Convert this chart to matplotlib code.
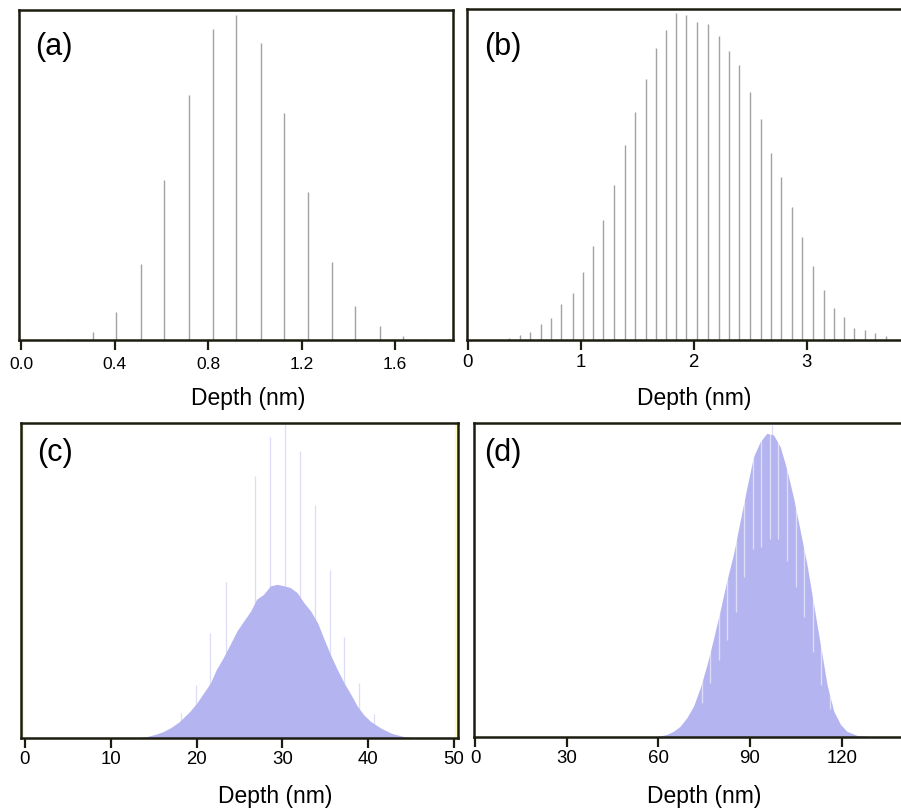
import matplotlib
matplotlib.use("Agg")
import matplotlib.pyplot as plt
import numpy as np

plt.rcParams['font.family'] = ['Liberation Sans', 'DejaVu Sans']

# ---------------- data ----------------
# (a) depth distribution, discrete lines (relative counts)
a_depth = [0.20, 0.307, 0.408, 0.515, 0.613, 0.717, 0.820, 0.921, 1.025, 1.124,
           1.229, 1.329, 1.430, 1.534, 1.634, 1.73, 1.83]
a_count = [1, 8.3, 28.3, 76, 160, 245, 311, 325.3, 296.7, 227.3,
           148.3, 78.3, 34, 14.3, 4, 1.5, 1]
a_ticks = [0.0, 0.4, 0.8, 1.2, 1.6]
a_ticklabels = ["0.0", "0.4", "0.8", "1.2", "1.6"]

# (b) depth distribution, discrete lines (relative counts)
b_depth = [0.271, 0.366, 0.460, 0.552, 0.649, 0.735, 0.826, 0.929, 1.018, 1.109,
           1.201, 1.292, 1.389, 1.484, 1.575, 1.667, 1.758, 1.844, 1.935, 2.032,
           2.130, 2.224, 2.313, 2.401, 2.496, 2.596, 2.684, 2.776, 2.867, 2.962,
           3.053, 3.150, 3.242, 3.330, 3.422, 3.513, 3.608, 3.705, 3.80, 3.89, 3.98]
b_count = [4, 5, 15, 25, 48, 65, 107, 142, 205, 282,
           360, 464, 586, 683, 782, 877, 929, 982, 975, 953,
           947, 912, 866, 824, 745, 662, 560, 488, 400, 308,
           221, 151, 95, 68, 37, 29, 20, 12, 4, 3, 2]
b_ticks = [0, 1, 2, 3]

# (c) histogram envelope (fraction of axis height) + isolated tall bins
c_depth = [12.5, 13.5, 14.1, 15.0, 16.1, 17.0, 18.0, 19.2, 20.0, 20.8, 21.6, 22.3,
           23.1, 23.9, 24.7, 25.5, 26.3, 27.0, 27.8, 28.6, 29.4, 30.2, 30.9, 31.7,
           32.5, 33.3, 34.1, 34.8, 35.6, 36.4, 37.2, 38.0, 38.75, 39.5, 40.3, 41.5,
           42.7, 44.2, 45.8, 47.0]
c_freq = [0, 0.003, 0.005, 0.011, 0.021, 0.034, 0.053, 0.085, 0.111, 0.143, 0.175, 0.218,
          0.255, 0.297, 0.340, 0.372, 0.403, 0.441, 0.456, 0.483, 0.488, 0.483, 0.478, 0.462,
          0.430, 0.403, 0.366, 0.318, 0.265, 0.218, 0.175, 0.138, 0.101, 0.074, 0.053, 0.032,
          0.016, 0.005, 0.001, 0]
c_spike_depth = [18.13, 19.88, 21.60, 23.40, 26.84, 28.59, 30.27, 32.07, 33.83,
                 35.51, 37.23, 38.98, 40.70]
c_spike_freq = [0.080, 0.170, 0.334, 0.494, 0.830, 0.955, 0.996, 0.911, 0.738,
                0.533, 0.321, 0.175, 0.076]
c_ticks = [0, 10, 20, 30, 40, 50]

# (d) histogram envelope (fraction of axis height) + depleted bins
d_depth = [52, 56, 60, 62.7, 64.9, 67.1, 69.3, 71.5, 73.7, 75.8, 78.0, 80.2, 82.4,
           84.6, 86.8, 89.0, 91.1, 93.3, 95.5, 97.7, 99.9, 102.1, 104.3, 106.4, 108.6,
           110.8, 113.0, 115.2, 117.4, 119.6, 121.7, 125.0, 130.5, 134]
d_freq = [0, 0.001, 0.003, 0.009, 0.019, 0.035, 0.062, 0.099, 0.158, 0.227, 0.312, 0.403, 0.499,
          0.584, 0.691, 0.797, 0.893, 0.941, 0.968, 0.963, 0.925, 0.851, 0.760, 0.659, 0.552,
          0.424, 0.296, 0.168, 0.083, 0.041, 0.019, 0.006, 0.001, 0]
d_dip_depth = [74.2, 76.9, 79.7, 82.4, 85.3, 88.0, 90.9, 93.7, 96.5, 99.3, 102.1,
               104.9, 107.7, 110.5, 113.3, 116.1]
d_dip_freq = [0.11, 0.172, 0.246, 0.31, 0.40, 0.51, 0.60, 0.605, 0.633, 0.63, 0.56,
              0.48, 0.383, 0.272, 0.168, 0.09]
d_spike_depth = [97.2]
d_spike_freq = [0.995]
d_ticks = [0, 30, 60, 90, 120]

xlabel = "Depth (nm)"

# ---------------- figure ----------------
W, H = 901, 809
fig = plt.figure(figsize=(W / 100, H / 100), dpi=100)

def axes_px(l, t, r, b):
    return fig.add_axes([l / W, 1 - b / H, (r - l) / W, (b - t) / H])

spine_col = '#1c1c10'
bar_col = '#a2a2a2'
hist_col = '#b4b4f0'

def style(ax, ticks, labels, tsize, pad):
    for s in ax.spines.values():
        s.set_linewidth(1.8)
        s.set_color(spine_col)
    ax.set_yticks([])
    ax.set_xticks(ticks)
    ax.set_xticklabels(labels)
    ax.tick_params(axis='x', direction='out', length=7, width=1.6,
                   labelsize=tsize, pad=pad, colors=spine_col, labelcolor='black')

# (a)
axa = axes_px(19, 10, 453, 340)
axa.vlines(a_depth, 0, a_count, color=bar_col, lw=1.0)
axa.set_xlim(-0.0086, 1.848)
axa.set_ylim(0, 330)
style(axa, a_ticks, a_ticklabels, 12.5, 5.0)
axa.text(0.037, 0.889, "(a)", transform=axa.transAxes, fontsize=22, ha='left', va='center')
axa.text(0.5276, -0.197, xlabel, transform=axa.transAxes, fontsize=16.5, ha='center', va='baseline')

# (b)
axb = axes_px(466.7, 9.3, 923, 340)
axb.vlines(b_depth, 0, b_count, color=bar_col, lw=1.0)
axb.set_xlim(-0.0088, 4.03)
axb.set_ylim(0, 992)
style(axb, b_ticks, [str(t) for t in b_ticks], 13.4, 3.0)
axb.text(0.0386, 0.887, "(b)", transform=axb.transAxes, fontsize=22, ha='left', va='center')
axb.text(0.4975, -0.1966, xlabel, transform=axb.transAxes, fontsize=16.5, ha='center', va='baseline')

# (c)
axc = axes_px(20.7, 422.7, 458.3, 738.3)
axc.fill_between(c_depth, 0, c_freq, color=hist_col, lw=0)
axc.vlines(c_spike_depth, 0, c_spike_freq, color=hist_col, lw=0.9, alpha=0.45)
axc.set_xlim(-0.5, 50.5)
axc.set_ylim(0, 1.0)
axc.plot([0.006, 0.006], [0, 1], transform=axc.transAxes, color='#fcfcb8', lw=1.5)
axc.plot([0.994, 0.994], [0, 1], transform=axc.transAxes, color='#fcfcb8', lw=1.5)
style(axc, c_ticks, [str(t) for t in c_ticks], 13.4, 2.5)
axc.text(0.0366, 0.904, "(c)", transform=axc.transAxes, fontsize=22, ha='left', va='center')
axc.text(0.581, -0.205, xlabel, transform=axc.transAxes, fontsize=16.5, ha='center', va='baseline')

# (d)
axd = axes_px(474, 423.3, 923, 737.3)
axd.fill_between(d_depth, 0, d_freq, color=hist_col, lw=0)
axd.vlines(d_dip_depth, d_dip_freq, 1.0, color='white', lw=1.0, alpha=0.55)
axd.vlines(d_spike_depth, 0, d_spike_freq, color=hist_col, lw=0.9, alpha=0.45)
axd.set_xlim(-0.33, 146.6)
axd.set_ylim(0, 1.0)
style(axd, d_ticks, [str(t) for t in d_ticks], 13.4, 2.5)
axd.text(0.0223, 0.905, "(d)", transform=axd.transAxes, fontsize=22, ha='left', va='center')
axd.text(0.512, -0.209, xlabel, transform=axd.transAxes, fontsize=16.5, ha='center', va='baseline')

fig.savefig("out.png", dpi=100)
